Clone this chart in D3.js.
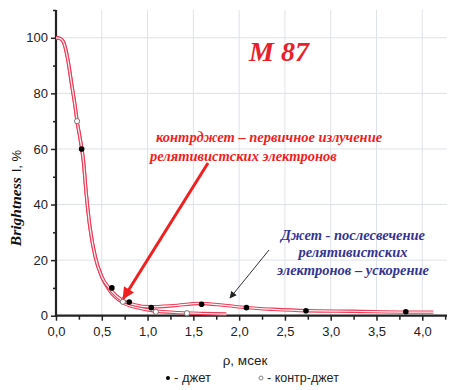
<!DOCTYPE html>
<html>
<head>
<meta charset="utf-8">
<script src="https://cdn.jsdelivr.net/npm/d3@7/dist/d3.min.js"></script>
<style>
  html, body { margin: 0; padding: 0; background: #fff; }
  svg { display: block; }
</style>
</head>
<body>
<svg id="chart" width="449" height="390"></svg>
<script>
// Measured points: jet (filled) and counter-jet (open)
const jetX = [0.28, 0.61, 0.80, 1.04, 1.59, 2.08, 2.73, 3.82];
const jetY = [60, 10, 4.9, 2.9, 4.1, 2.9, 1.8, 1.4];
const cjetX = [0.23, 0.73, 1.09, 1.43];
const cjetY = [70, 5.0, 1.4, 0.9];

// Model curves (jet and counter-jet brightness profiles)
const jetCurveX = [0, 0.04, 0.08, 0.13, 0.17, 0.21, 0.23, 0.26, 0.30, 0.33, 0.37, 0.43, 0.50, 0.59, 0.73, 0.85, 1.03, 1.28, 1.57, 1.82, 2.08, 2.37, 2.74, 3.24, 3.83, 4.12];
const jetCurveY = [100, 99.8, 98.6, 92, 83.5, 75, 70, 64.4, 55.5, 44, 32, 21, 14, 9.6, 5.4, 4.0, 3.2, 3.6, 4.4, 3.8, 2.9, 2.3, 1.8, 1.6, 1.3, 1.3];
const cjetCurveX = [0, 0.04, 0.08, 0.13, 0.17, 0.21, 0.23, 0.26, 0.30, 0.33, 0.37, 0.43, 0.50, 0.59, 0.73, 0.90, 1.06, 1.35, 1.60, 1.86];
const cjetCurveY = [100, 99.8, 98.6, 92, 83.5, 75, 70, 64.4, 55.5, 44, 32, 21, 14, 8.8, 4.7, 2.8, 1.8, 1.1, 0.8, 0.6];

const xMajorTicks = [0, 0.5, 1.0, 1.5, 2.0, 2.5, 3.0, 3.5, 4.0];
const xMinorTicks = [0.25, 0.75, 1.25, 1.75, 2.25, 2.75, 3.25, 3.75, 4.25];
const yMajorTicks = [0, 20, 40, 60, 80, 100];
const yMinorTicks = [10, 30, 50, 70, 90, 110];

const svg = d3.select("#chart");
const plotLeft = 56, plotRight = 447, plotTop = 10, plotBottom = 315.7;
const sans = "Liberation Sans, Arial, sans-serif";
const serif = "Liberation Serif, Times New Roman, serif";

const x = d3.scaleLinear().domain([0, 4.27]).range([plotLeft, plotRight]);
const y = d3.scaleLinear().domain([0, 110]).range([plotBottom, plotTop]);
const fmt = d => d3.format(".1f")(d).replace(".", ",");

// grid
const grid = svg.append("g").attr("stroke", "#dde3e8").attr("stroke-width", 1);
xMajorTicks.filter(d => d > 0).forEach(d => {
  grid.append("line").attr("x1", x(d)).attr("x2", x(d)).attr("y1", plotTop).attr("y2", plotBottom);
});
yMajorTicks.filter(d => d > 0).forEach(d => {
  grid.append("line").attr("x1", plotLeft).attr("x2", plotRight).attr("y1", y(d)).attr("y2", y(d));
});

// axes
const xAxis = svg.append("g").attr("transform", `translate(0,${plotBottom})`)
  .call(d3.axisBottom(x).tickValues(xMajorTicks).tickFormat(fmt).tickSize(5).tickPadding(6));
const xAxisMinor = svg.append("g").attr("transform", `translate(0,${plotBottom})`)
  .call(d3.axisBottom(x).tickValues(xMinorTicks).tickFormat("").tickSize(4));
const yAxis = svg.append("g").attr("transform", `translate(${plotLeft},0)`)
  .call(d3.axisLeft(y).tickValues(yMajorTicks).tickSize(5).tickPadding(3));
const yAxisMinor = svg.append("g").attr("transform", `translate(${plotLeft},0)`)
  .call(d3.axisLeft(y).tickValues(yMinorTicks).tickFormat("").tickSize(3));

[xAxis, xAxisMinor, yAxis, yAxisMinor].forEach(g => {
  g.select(".domain").remove();
  g.selectAll(".tick line").attr("stroke", "#222").attr("stroke-width", 1.5);
  g.selectAll("text").attr("font-family", sans)
    .attr("font-size", 13).attr("fill", "#222");
});
svg.append("line").attr("x1", plotLeft).attr("x2", plotRight).attr("y1", plotBottom).attr("y2", plotBottom)
  .attr("stroke", "#222").attr("stroke-width", 2.2);
svg.append("line").attr("x1", plotLeft).attr("x2", plotLeft).attr("y1", plotTop).attr("y2", plotBottom + 1)
  .attr("stroke", "#222").attr("stroke-width", 2.2);

// curves drawn as red double lines
const line = d3.line().x(d => x(d[0])).y(d => y(d[1])).curve(d3.curveMonotoneX);
const jetCurve = jetCurveX.map((v, i) => [v, jetCurveY[i]]);
const cjetCurve = cjetCurveX.map((v, i) => [v, cjetCurveY[i]]);
[cjetCurve, jetCurve].forEach(c => {
  svg.append("path").attr("d", line(c)).attr("fill", "none")
    .attr("stroke", "#ee3c58").attr("stroke-width", 3.4);
  svg.append("path").attr("d", line(c)).attr("fill", "none")
    .attr("stroke", "#fff2f4").attr("stroke-width", 1.2);
});

// points
svg.append("g").selectAll("circle").data(cjetX).join("circle")
  .attr("cx", d => x(d)).attr("cy", (d, i) => y(cjetY[i])).attr("r", 2.6)
  .attr("fill", "#fff").attr("stroke", "#777").attr("stroke-width", 1);
svg.append("g").selectAll("circle").data(jetX).join("circle")
  .attr("cx", d => x(d)).attr("cy", (d, i) => y(jetY[i])).attr("r", 2.8)
  .attr("fill", "#000");

// arrows
const defs = svg.append("defs");
defs.append("marker").attr("id", "headRed").attr("viewBox", "0 0 10 10")
  .attr("refX", 9).attr("refY", 5).attr("markerWidth", 4).attr("markerHeight", 4)
  .attr("orient", "auto").attr("markerUnits", "strokeWidth")
  .append("path").attr("d", "M0,0 L10,5 L0,10 z").attr("fill", "#f02020");
defs.append("marker").attr("id", "headBlack").attr("viewBox", "0 0 10 10")
  .attr("refX", 9).attr("refY", 5).attr("markerWidth", 8).attr("markerHeight", 7)
  .attr("orient", "auto").attr("markerUnits", "strokeWidth")
  .append("path").attr("d", "M0,0 L10,5 L0,10 z").attr("fill", "#222");

svg.append("line").attr("x1", 208).attr("y1", 163).attr("x2", x(0.735)).attr("y2", y(6.2))
  .attr("stroke", "#f02020").attr("stroke-width", 3).attr("marker-end", "url(#headRed)");
svg.append("line").attr("x1", 269).attr("y1", 250).attr("x2", 230).attr("y2", 298)
  .attr("stroke", "#333").attr("stroke-width", 1).attr("marker-end", "url(#headBlack)");

// annotations
svg.append("text").attr("x", 279).attr("y", 61).attr("text-anchor", "middle")
  .attr("font-family", serif).attr("font-weight", "bold").attr("font-style", "italic")
  .attr("font-size", 28).attr("fill", "#e8202a").text("M 87");

const redNote = svg.append("text").attr("font-family", serif).attr("font-weight", "bold")
  .attr("font-style", "italic").attr("font-size", 14.5).attr("fill", "#f01e1e");
redNote.append("tspan").attr("x", 156).attr("y", 142).text("контрджет – первичное излучение");
redNote.append("tspan").attr("x", 150).attr("y", 161).text("релятивистских электронов");

const blueNote = svg.append("text").attr("font-family", serif).attr("font-weight", "bold")
  .attr("font-style", "italic").attr("font-size", 14.5).attr("fill", "#343494")
  .attr("text-anchor", "middle");
blueNote.append("tspan").attr("x", 353).attr("y", 240).text("Джет - послесвечение");
blueNote.append("tspan").attr("x", 353).attr("y", 257).text("релятивистских");
blueNote.append("tspan").attr("x", 353).attr("y", 275).text("электронов – ускорение");

// axis titles
const yTitle = svg.append("text").attr("transform", "translate(21,198) rotate(-90)")
  .attr("text-anchor", "middle").attr("fill", "#111");
yTitle.append("tspan").attr("font-family", serif).attr("font-weight", "bold")
  .attr("font-style", "italic").attr("font-size", 15.5).text("Brightness");
yTitle.append("tspan").attr("font-family", sans)
  .attr("font-size", 13).attr("dx", 5).text("I, %");

svg.append("text").attr("x", 245).attr("y", 365).attr("text-anchor", "middle")
  .attr("font-family", sans).attr("font-size", 13.5)
  .attr("fill", "#222").text("ρ, мсек");

// legend
svg.append("circle").attr("cx", 168).attr("cy", 378).attr("r", 2).attr("fill", "#000");
svg.append("text").attr("x", 174).attr("y", 382).attr("font-family", sans)
  .attr("font-size", 13).attr("fill", "#222").text("- джет");
svg.append("circle").attr("cx", 261).attr("cy", 378).attr("r", 2).attr("fill", "#fff")
  .attr("stroke", "#777").attr("stroke-width", 0.9);
svg.append("text").attr("x", 267).attr("y", 382).attr("font-family", sans)
  .attr("font-size", 12.5).attr("fill", "#222").text("- контр-джет");
</script>
</body>
</html>
